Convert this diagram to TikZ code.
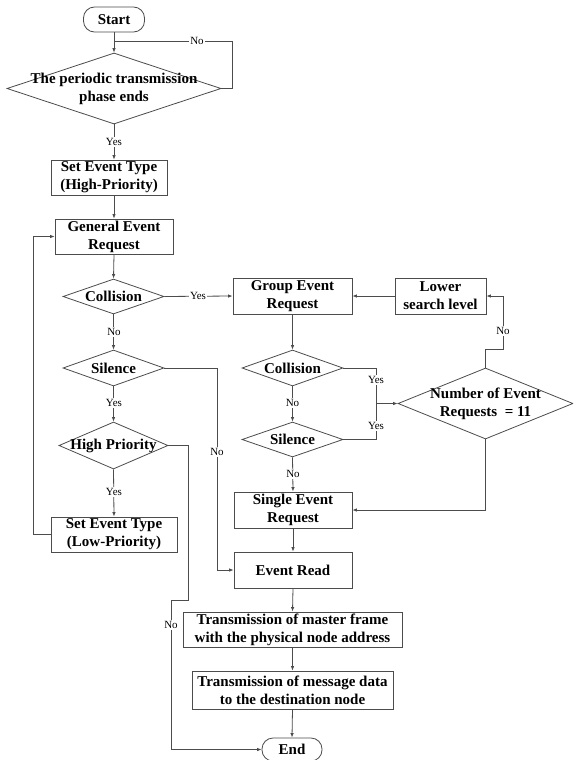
\documentclass[tikz,border=0pt]{standalone}
\usepackage{fontspec}
\setmainfont{Liberation Serif}
\usetikzlibrary{shapes.geometric,arrows.meta}
\begin{document}
\begin{tikzpicture}[x=1pt,y=-1pt,
  conn/.style={draw=black!70,line width=0.8pt},
  arr/.style={conn,-{Latex[length=4.5pt,width=3.5pt]}},
  box/.style={draw=black!70,line width=0.8pt,rectangle,inner sep=0pt,align=center,
    font=\bfseries\fontsize{15}{18}\selectfont},
  term/.style={box,rounded corners=11pt},
  dia/.style={draw=black!70,line width=0.8pt,diamond,inner sep=0pt},
  dtxt/.style={font=\bfseries\fontsize{15}{18}\selectfont,align=center,inner sep=0pt},
  lbl/.style={font=\fontsize{11}{12}\selectfont,fill=white,inner sep=1pt}]
\useasboundingbox (0,0) rectangle (573,760);
\fill[white] (0,0) rectangle (573,760);
\begin{scope}
\clip (0,0) rectangle (573,760);
% nodes
\node[term,minimum width=61pt,minimum height=25pt] (start) at (114,19.5) {Start};
\node[dia,minimum width=214pt,minimum height=71pt,
  label={[dtxt]center:{The periodic transmission\\phase ends}}] (d1) at (114,88.5) {};
\node[box,minimum width=116pt,minimum height=35pt] (hp) at (109,177.5) {Set Event Type\\(High-Priority)};
\node[box,minimum width=118pt,minimum height=35pt] (ger) at (114,236.5) {General Event\\Request};
\node[dia,minimum width=101pt,minimum height=35pt,label={[dtxt]center:Collision}] (col1) at (113.5,296.5) {};
\node[dia,minimum width=101pt,minimum height=36pt,label={[dtxt]center:Silence}] (sil1) at (113.5,368) {};
\node[dia,minimum width=109pt,minimum height=47pt,label={[dtxt]center:High Priority}] (hpd) at (113.5,445.5) {};
\node[box,minimum width=126pt,minimum height=35pt] (lp) at (114,534.5) {Set Event Type\\(Low-Priority)};
\node[box,minimum width=119pt,minimum height=36pt] (grp) at (292.5,296) {Group Event\\Request};
\node[box,minimum width=91pt,minimum height=36pt] (low) at (440.5,296) {Lower\\search level};
\node[dia,minimum width=101pt,minimum height=36pt,label={[dtxt]center:Collision}] (col2) at (292.5,368) {};
\node[dia,minimum width=101pt,minimum height=35pt,label={[dtxt]center:Silence}] (sil2) at (292.5,439.5) {};
\node[dia,minimum width=175pt,minimum height=71pt,
  label={[dtxt]center:{Number of Event\\Requests \ = 11}}] (num) at (485.5,403.5) {};
\node[box,minimum width=118pt,minimum height=36pt] (ser) at (293,510) {Single Event\\Request};
\node[box,minimum width=118pt,minimum height=36pt] (er) at (293,570) {Event Read};
\node[box,minimum width=219pt,minimum height=35pt] (tm) at (292.5,629.5) {Transmission of master frame\\with the physical node address};
\node[box,minimum width=201pt,minimum height=38pt] (td) at (292.5,690) {Transmission of message data\\to the destination node};
\node[term,minimum width=60pt,minimum height=23pt] (end) at (292,749.5) {End};
\coordinate (j1) at (114,41);
\coordinate (jn) at (376,403.5);
% connectors
\draw[arr] (start.south) -- (d1.north);
\draw[conn] (d1.east) -- (232,88.5) -- (232,41) -- (j1);
\node[lbl] at (197,41) {No};
\draw[arr] (d1.south) -- (d1.south |- hp.north);
\node[lbl] at (114,142) {Yes};
\draw[arr] (ger.north |- hp.south) -- (ger.north);
\draw[arr] (ger.south) -- (col1.north);
\draw[arr] (col1.east) -- (grp.west);
\node[lbl] at (198,296) {Yes};
\draw[arr] (col1.south) -- (sil1.north);
\node[lbl] at (114,332) {No};
\draw[arr] (sil1.south) -- (hpd.north);
\node[lbl] at (114,403) {Yes};
\draw[arr] (hpd.south) -- (lp.north);
\node[lbl] at (114,492) {Yes};
\draw[arr] (lp.west) -- (33,534.5) |- (ger.west);
\draw[arr] (sil1.east) -- (217,368) |- (er.west);
\node[lbl] at (217,452) {No};
\draw[arr] (hpd.east) -- (188,445.5) -- (188,600) -- (171,600) |- (end.west);
\node[lbl] at (171,625) {No};
\draw[arr] (grp.south) -- (col2.north);
\draw[arr] (low.west) -- (grp.east);
\draw[arr] (col2.south) -- (sil2.north);
\node[lbl] at (292.5,403) {No};
\draw[conn] (col2.east) -- (376,368) -- (jn);
\draw[conn] (sil2.east) -- (376,439.5) -- (jn);
\node[lbl] at (376,380) {Yes};
\node[lbl] at (376,426) {Yes};
\draw[arr] (jn) -- (num.west);
\draw[arr] (num.north) -- (485.5,349) -- (503,349) |- (low.east);
\node[lbl] at (503,331) {No};
\draw[arr] (num.south) |- (ser.east);
\draw[arr] (sil2.south) -- (ser.north);
\node[lbl] at (293,474) {No};
\draw[arr] (ser.south) -- (er.north);
\draw[arr] (er.south) -- (tm.north);
\draw[arr] (tm.south) -- (td.north);
\draw[arr] (td.south) -- (end.north);
\end{scope}
\end{tikzpicture}
\end{document}
